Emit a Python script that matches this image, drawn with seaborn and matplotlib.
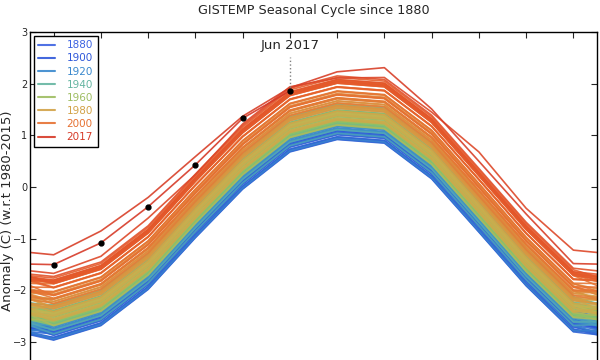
import matplotlib
matplotlib.use("Agg")
import matplotlib.pyplot as plt
from matplotlib.colors import LinearSegmentedColormap
from matplotlib.lines import Line2D
import numpy as np
import pandas as pd
import seaborn as sns

# Seasonal cycle for a year with zero anomaly (Jan..Dec)
months = ["Jan", "Feb", "Mar", "Apr", "May", "Jun",
          "Jul", "Aug", "Sep", "Oct", "Nov", "Dec"]
climatology = [-2.48, -2.20, -1.50, -0.50, 0.44, 1.16,
               1.40, 1.33, 0.64, -0.39, -1.43, -2.32]

# Annual mean anomalies 1880-2014
first_year = 1880
annual_anomaly = [
    -0.16, -0.08, -0.11, -0.17, -0.28, -0.33, -0.31, -0.36, -0.17, -0.10,
    -0.35, -0.22, -0.27, -0.31, -0.30, -0.22, -0.11, -0.11, -0.27, -0.17,
    -0.08, -0.15, -0.28, -0.37, -0.47, -0.26, -0.22, -0.39, -0.43, -0.48,
    -0.43, -0.44, -0.36, -0.34, -0.15, -0.14, -0.36, -0.46, -0.29, -0.27,
    -0.27, -0.19, -0.28, -0.26, -0.27, -0.22, -0.10, -0.22, -0.20, -0.36,
    -0.16, -0.09, -0.16, -0.29, -0.12, -0.20, -0.15, -0.03, 0.00, -0.02,
    0.13, 0.19, 0.07, 0.09, 0.20, 0.09, -0.07, -0.03, -0.11, -0.11,
    -0.17, -0.07, 0.01, 0.08, -0.13, -0.14, -0.19, 0.05, 0.06, 0.03,
    -0.03, 0.06, 0.03, 0.05, -0.20, -0.11, -0.06, -0.02, -0.08, 0.05,
    0.03, -0.08, 0.01, 0.16, -0.07, -0.01, -0.10, 0.18, 0.07, 0.16,
    0.26, 0.32, 0.14, 0.31, 0.16, 0.12, 0.18, 0.32, 0.39, 0.27,
    0.45, 0.41, 0.22, 0.23, 0.31, 0.45, 0.33, 0.46, 0.61, 0.38,
    0.39, 0.54, 0.63, 0.62, 0.53, 0.68, 0.64, 0.66, 0.54, 0.65,
    0.72, 0.61, 0.64, 0.68, 0.75,
]

# Monthly anomalies for the most recent years
anomaly_2015 = [0.81, 0.86, 0.90, 0.74, 0.78, 0.78, 0.71, 0.79, 0.81, 1.07, 1.02, 1.10]
anomaly_2016 = [1.17, 1.35, 1.30, 1.09, 0.93, 0.76, 0.83, 0.98, 0.87, 0.89, 0.91, 0.84]
anomaly_2017 = [0.98, 1.12, 1.12, 0.93, 0.89, 0.70]

legend_years = [1880, 1900, 1920, 1940, 1960, 1980, 2000, 2017]
palette_stops = [(0.00, "#3d63e2"), (0.18, "#2c55d8"), (0.30, "#3a8ccc"),
                 (0.42, "#5eb2ac"), (0.54, "#88c26a"), (0.66, "#c4b452"),
                 (0.76, "#d89a42"), (0.84, "#e47a36"), (0.92, "#e8682e"),
                 (0.98, "#e2522a"), (1.00, "#d63a28")]

# build one long monthly series, then cut each year Dec(prev) .. Jan(next)
rows = []
for i, a in enumerate(annual_anomaly):
    for m in range(12):
        rows.append((first_year + i, m, a))
for yr, arr in [(2015, anomaly_2015), (2016, anomaly_2016), (2017, anomaly_2017)]:
    for m, a in enumerate(arr):
        rows.append((yr, m, a))
monthly = pd.DataFrame(rows, columns=["year", "month", "anom"])
monthly["value"] = monthly["anom"] + np.array(climatology)[monthly["month"]]

pieces = []
last_year = monthly["year"].max()
for yr in range(first_year, last_year + 1):
    idx = monthly.index[monthly["year"] == yr]
    lo = max(idx.min() - 1, 0)
    hi = min(idx.max() + 1, len(monthly) - 1)
    seg = monthly.loc[lo:hi].copy()
    seg["x"] = np.arange(len(seg)) + (1 if lo == idx.min() else 0)
    seg["line"] = yr
    pieces.append(seg)
df = pd.concat(pieces, ignore_index=True)

cmap = LinearSegmentedColormap.from_list("gistemp", palette_stops)
years = sorted(df["line"].unique())
palette = {y: cmap((y - first_year) / (last_year - first_year)) for y in years}

sns.set_style("ticks")
plt.rcParams["font.family"] = ["DejaVu Sans"]

fig = plt.figure(figsize=(6, 3.6), dpi=100)
ax = fig.add_axes([0.05, -0.0222, 0.945, 0.9333])

sns.lineplot(data=df, x="x", y="value", hue="line", palette=palette,
             units="line", estimator=None, sort=False, legend=False,
             linewidth=1.2, alpha=0.9, ax=ax)

# 2017 points
yr17 = df[(df["line"] == 2017) & (df["year"] == 2017)]
ax.plot(yr17["x"], yr17["value"], "o", color="black", markersize=3.5, zorder=5)
jun = yr17[yr17["month"] == 5].iloc[0]
ax.plot([jun["x"], jun["x"]], [jun["value"], 2.52], ":", color="gray", linewidth=1)
ax.text(jun["x"], 2.62, "Jun 2017", ha="center", va="bottom", fontsize=9.5)

ax.set_xlim(0.5, 12.5)
ax.set_ylim(-3.5, 3)
ax.set_xticks(range(1, 13))
ax.set_yticks(range(-3, 4))
ax.tick_params(direction="in", top=True, right=True, labelbottom=False,
               labelsize=7, length=4, width=0.8)
ax.tick_params(axis="y", pad=2)
for s in ax.spines.values():
    s.set_linewidth(1)
    s.set_color("black")
ax.set_xlabel("")
ax.set_ylabel("Anomaly (C) (w.r.t 1980-2015)", fontsize=9.5)
ax.yaxis.set_label_coords(-0.029, 0.467)
ax.set_title("GISTEMP Seasonal Cycle since 1880", fontsize=9.2, pad=13)

handles = [Line2D([], [], color=palette[y], linewidth=1.5, alpha=0.9) for y in legend_years]
leg = ax.legend(handles, [str(y) for y in legend_years], loc="upper left",
                fontsize=7.5, frameon=True, fancybox=False, framealpha=1,
                edgecolor="black", handlelength=1.6, handletextpad=1.1,
                borderaxespad=0.35, labelspacing=0.3, borderpad=0.45)
leg.get_frame().set_linewidth(1)
for t, y in zip(leg.get_texts(), legend_years):
    t.set_color(palette[y])

fig.savefig("out.png", dpi=100)
